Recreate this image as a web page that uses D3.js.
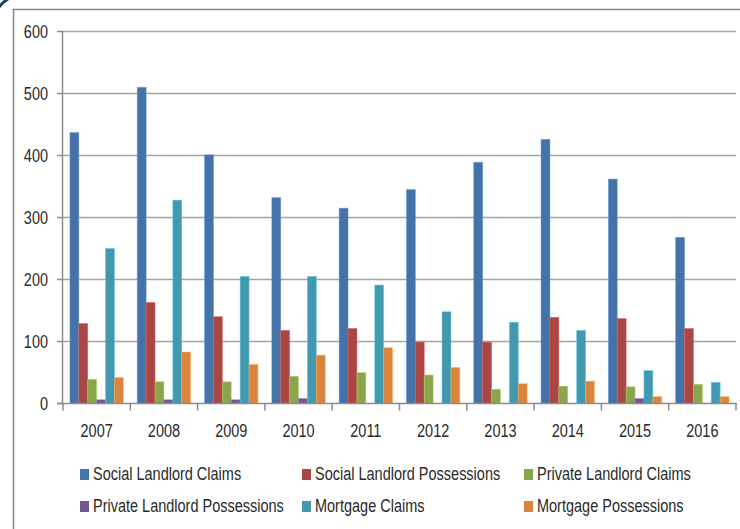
<!DOCTYPE html>
<html>
<head>
<meta charset="utf-8">
<script src="https://cdnjs.cloudflare.com/ajax/libs/d3/7.8.5/d3.min.js"></script>
<style>
  body { margin: 0; background: #fff; }
  svg { display: block; }
  text { font-family: "Liberation Sans", Arial, sans-serif; fill: #2a2a2a; }
</style>
</head>
<body>
<div id="chart"></div>
<script>
// data
const years = ['2007', '2008', '2009', '2010', '2011', '2012', '2013', '2014', '2015', '2016'];
const seriesNames = [
  'Social Landlord Claims', 'Social Landlord Possessions', 'Private Landlord Claims',
  'Private Landlord Possessions', 'Mortgage Claims', 'Mortgage Possessions'
];
const socialClaims = [437, 510, 401, 332, 315, 345, 389, 426, 362, 268];
const socialPossessions = [129, 163, 140, 118, 121, 99, 99, 139, 137, 121];
const privateClaims = [39, 35, 35, 44, 50, 46, 23, 28, 27, 31];
const privatePossessions = [6, 6, 6, 8, 0, 0, 0, 0, 8, 0];
const mortgageClaims = [250, 328, 205, 205, 191, 148, 131, 118, 53, 34];
const mortgagePossessions = [42, 83, 63, 78, 90, 58, 32, 36, 11, 11];
const yTicks = [0, 100, 200, 300, 400, 500, 600];

const seriesValues = [socialClaims, socialPossessions, privateClaims, privatePossessions, mortgageClaims, mortgagePossessions];
const colors = ['#4572A7', '#AA4643', '#89A54E', '#71588F', '#4198AF', '#DB843D'];

const width = 740;
const height = 529;
const plotLeft = 63;
const plotRight = 736;
const plotTop = 31.5;
const plotBottom = 403.5;
const textScale = 1.22; // reference text is stretched vertically

const svg = d3.select('#chart').append('svg')
  .attr('width', width)
  .attr('height', height);

// outer frame bits
svg.append('path')
  .attr('d', `M13.5,${height} L13.5,9.5 L${width},9.5`)
  .attr('fill', 'none')
  .attr('stroke', '#868686')
  .attr('stroke-width', 1.5);

svg.append('path')
  .attr('d', 'M-1,7 Q3,2 8,-1')
  .attr('fill', 'none')
  .attr('stroke', '#1f3a6e')
  .attr('stroke-width', 3);

// scales
const x0 = d3.scaleBand().domain(years).range([plotLeft, plotRight]);
const x1 = d3.scaleBand().domain(d3.range(seriesNames.length))
  .range([0, x0.bandwidth()])
  .paddingOuter(0.78);
const y = d3.scaleLinear().domain([0, 600]).range([plotBottom, plotTop]);

// gridlines
svg.append('g')
  .selectAll('line')
  .data(yTicks.filter(d => d > 0))
  .join('line')
  .attr('x1', plotLeft)
  .attr('x2', plotRight)
  .attr('y1', d => y(d))
  .attr('y2', d => y(d))
  .attr('stroke', '#a3a3a3')
  .attr('stroke-width', 1.5);

// y axis
svg.append('line')
  .attr('x1', plotLeft - 0.5).attr('x2', plotLeft - 0.5)
  .attr('y1', plotTop).attr('y2', plotBottom + 1)
  .attr('stroke', '#8c8c8c')
  .attr('stroke-width', 1.5);

svg.append('g')
  .selectAll('line')
  .data(yTicks)
  .join('line')
  .attr('x1', plotLeft - 6).attr('x2', plotLeft)
  .attr('y1', d => y(d)).attr('y2', d => y(d))
  .attr('stroke', '#8c8c8c')
  .attr('stroke-width', 1.5);

svg.append('g')
  .selectAll('text')
  .data(yTicks)
  .join('text')
  .attr('transform', d => `translate(48,${y(d) + 6.3}) scale(1,${textScale})`)
  .attr('text-anchor', 'end')
  .style('font-size', '14.5px')
  .text(d => d);

// bars
const groups = svg.append('g')
  .selectAll('g')
  .data(years)
  .join('g')
  .attr('transform', d => `translate(${x0(d)},0)`);

groups.selectAll('rect')
  .data((d, i) => seriesValues.map((vals, s) => ({ s, v: vals[i] })))
  .join('rect')
  .filter(d => d.v > 0)
  .attr('x', d => x1(d.s))
  .attr('width', x1.bandwidth())
  .attr('y', d => y(d.v))
  .attr('height', d => y(0) - y(d.v))
  .attr('fill', d => colors[d.s])
  .attr('stroke', d => d3.color(colors[d.s]).brighter(0.8))
  .attr('stroke-opacity', 0.6)
  .attr('stroke-width', 0.8);

// x axis
svg.append('line')
  .attr('x1', plotLeft - 6).attr('x2', plotRight + 1)
  .attr('y1', plotBottom).attr('y2', plotBottom)
  .attr('stroke', '#8c8c8c')
  .attr('stroke-width', 1.5);

svg.append('g')
  .selectAll('line')
  .data(years.map(d => x0(d)).concat([plotRight]))
  .join('line')
  .attr('x1', d => d).attr('x2', d => d)
  .attr('y1', plotBottom).attr('y2', plotBottom + 7)
  .attr('stroke', '#8c8c8c')
  .attr('stroke-width', 1.5);

svg.append('g')
  .selectAll('text')
  .data(years)
  .join('text')
  .attr('transform', d => `translate(${x0(d) + x0.bandwidth() / 2},436.7) scale(1,${textScale})`)
  .attr('text-anchor', 'middle')
  .style('font-size', '14.5px')
  .text(d => d);

// legend
const legendCols = [80, 302, 524];
const legendRows = [480, 512];
const legend = svg.append('g')
  .selectAll('g')
  .data(seriesNames)
  .join('g')
  .attr('transform', (d, i) => `translate(${legendCols[i % 3]},${legendRows[Math.floor(i / 3)]})`);

legend.append('rect')
  .attr('x', 0)
  .attr('y', -11)
  .attr('width', 9)
  .attr('height', 11)
  .attr('fill', (d, i) => colors[i]);

legend.append('text')
  .attr('transform', `translate(13,0) scale(1,${textScale})`)
  .style('font-size', '14.5px')
  .text(d => d);
</script>
</body>
</html>
